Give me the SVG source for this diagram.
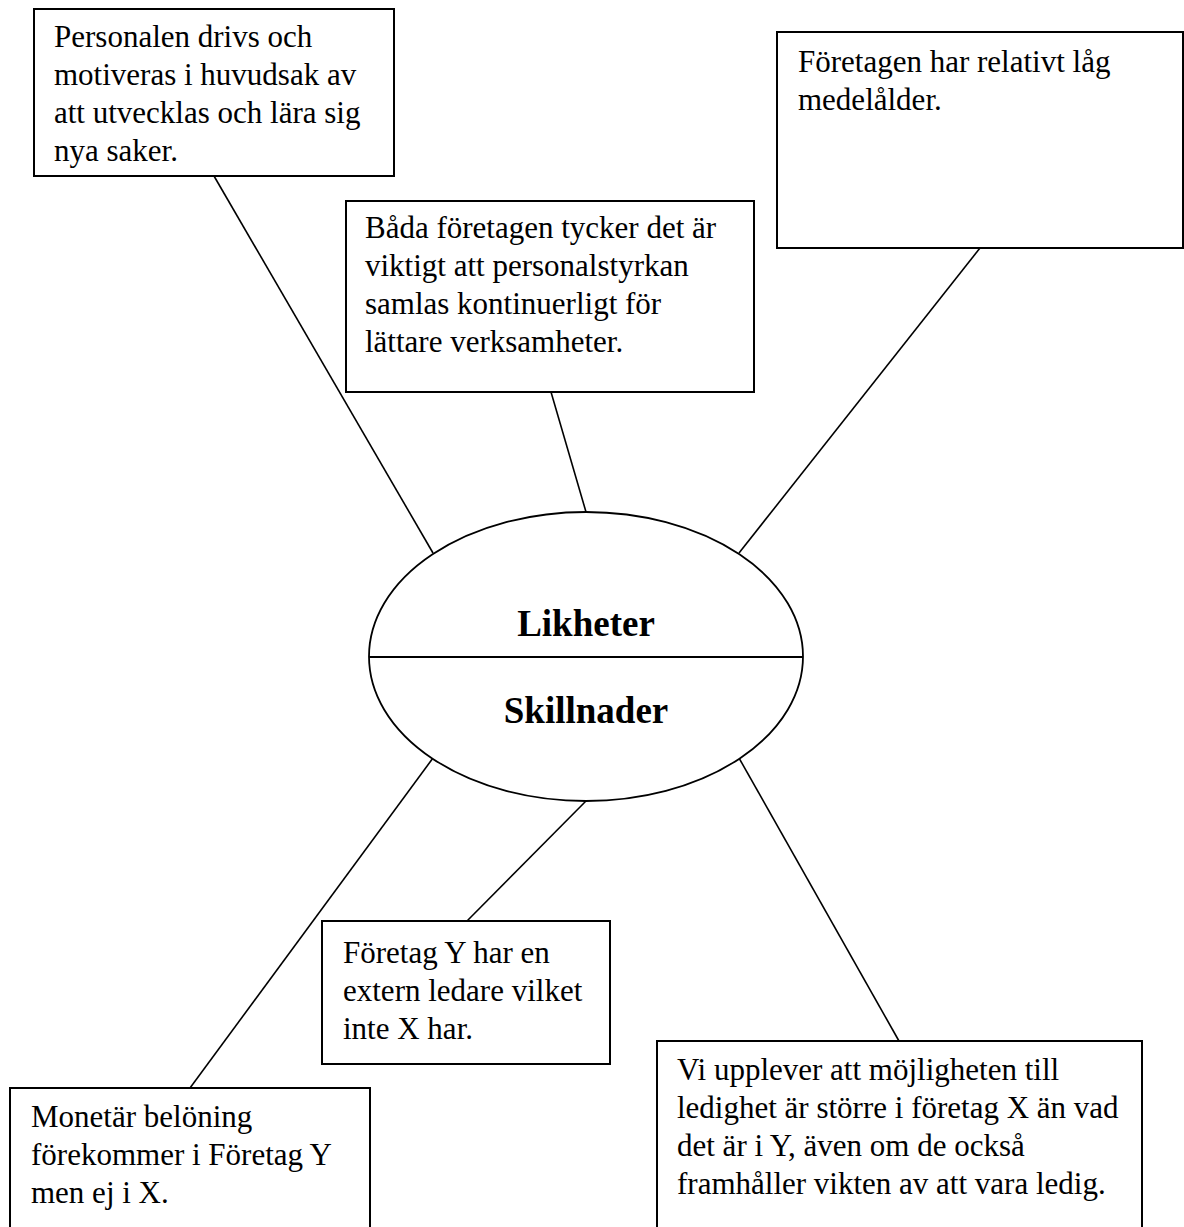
<svg xmlns="http://www.w3.org/2000/svg" width="1184" height="1227" viewBox="0 0 1184 1227">
<style>
.box{fill:#fff;stroke:#000;stroke-width:2}
.t{font-family:"Liberation Serif","Times New Roman",serif;font-size:31px;fill:#000}
.b{font-family:"Liberation Serif","Times New Roman",serif;font-size:37px;font-weight:bold;fill:#000;text-anchor:middle}
.c{stroke:#000;stroke-width:1.6;fill:none}
</style>
<rect width="1184" height="1227" fill="#fff"/>
<g id="connectors">
<line class="c" x1="214" y1="176" x2="433" y2="553"/>
<line class="c" x1="551" y1="392" x2="586" y2="512"/>
<line class="c" x1="980" y1="248" x2="739" y2="553"/>
<line class="c" x1="433" y1="758" x2="190" y2="1088"/>
<line class="c" x1="586" y1="801" x2="467" y2="921"/>
<line class="c" x1="739" y1="758" x2="899" y2="1041"/>
</g>
<g id="center">
<ellipse cx="586" cy="656.5" rx="217" ry="144.5" fill="#fff" stroke="#000" stroke-width="1.8"/>
<line x1="369" y1="657" x2="803" y2="657" stroke="#000" stroke-width="1.8"/>
<text class="b" x="586" y="636">Likheter</text>
<text class="b" x="586" y="723">Skillnader</text>
</g>
<g id="box1">
<rect class="box" x="34" y="9" width="360" height="167"/>
<text class="t" x="54" y="47">Personalen drivs och</text>
<text class="t" x="54" y="85">motiveras i huvudsak av</text>
<text class="t" x="54" y="123">att utvecklas och lära sig</text>
<text class="t" x="54" y="161">nya saker.</text>
</g>
<g id="box2">
<rect class="box" x="777" y="32" width="406" height="216"/>
<text class="t" x="798" y="72">Företagen har relativt låg</text>
<text class="t" x="798" y="110">medelålder.</text>
</g>
<g id="box3">
<rect class="box" x="346" y="201" width="408" height="191"/>
<text class="t" x="365" y="238">Båda företagen tycker det är</text>
<text class="t" x="365" y="276">viktigt att personalstyrkan</text>
<text class="t" x="365" y="314">samlas kontinuerligt för</text>
<text class="t" x="365" y="352">lättare verksamheter.</text>
</g>
<g id="box4">
<rect class="box" x="322" y="921" width="288" height="143"/>
<text class="t" x="343" y="963">Företag Y har en</text>
<text class="t" x="343" y="1001">extern ledare vilket</text>
<text class="t" x="343" y="1039">inte X har.</text>
</g>
<g id="box5">
<rect class="box" x="10" y="1088" width="360" height="160"/>
<text class="t" x="31" y="1127">Monetär belöning</text>
<text class="t" x="31" y="1165">förekommer i Företag Y</text>
<text class="t" x="31" y="1203">men ej i X.</text>
</g>
<g id="box6">
<rect class="box" x="657" y="1041" width="485" height="210"/>
<text class="t" x="677" y="1080">Vi upplever att möjligheten till</text>
<text class="t" x="677" y="1118">ledighet är större i företag X än vad</text>
<text class="t" x="677" y="1156">det är i Y, även om de också</text>
<text class="t" x="677" y="1194">framhåller vikten av att vara ledig.</text>
</g>
</svg>
